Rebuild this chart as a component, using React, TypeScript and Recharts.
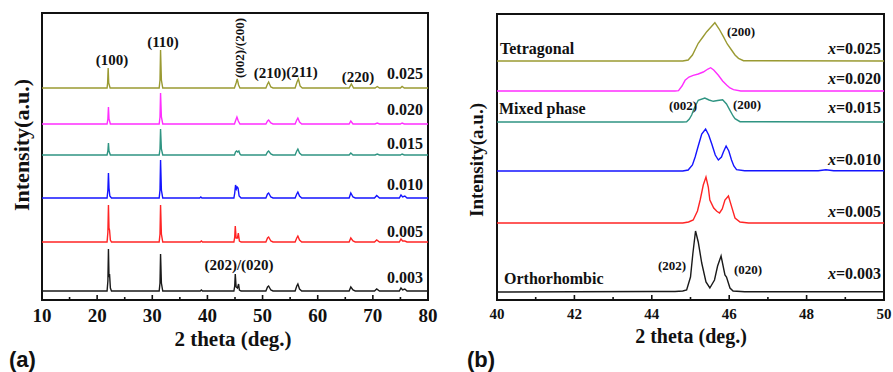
import React from 'react';
import { LineChart, Line, XAxis, YAxis, ReferenceArea } from 'recharts';

// x values of the stacked patterns, top label text
const compositions = ['0.003', '0.005', '0.010', '0.015', '0.020', '0.025'];
const colors = ['#1a1a1a', '#ff2424', '#1414ff', '#2f9482', '#ff2eff', '#9a9a32'];

// vertical stacking offsets (a.u.)
const offsetsA = [9, 58, 102, 145, 176, 212];
const offsetsB = [8, 77, 129, 178, 209, 239];

const ticksA = [10, 15, 20, 25, 30, 35, 40, 45, 50, 55, 60, 65, 70, 75, 80];
const majorA = [10, 20, 30, 40, 50, 60, 70, 80];
const ticksB = [40, 41, 42, 43, 44, 45, 46, 47, 48, 49, 50];
const majorB = [40, 42, 44, 46, 48, 50];

type Pt = [number, number];

// (a) full range 10-80 deg
const a003: Pt[] = [
  [10, 0], [21.8, 0], [21.95, 10], [22.05, 42], [22.15, 14], [22.25, 17], [22.4, 3], [22.6, 0],
  [31.25, 0], [31.4, 8], [31.5, 37], [31.65, 8], [31.9, 0],
  [38.7, 0], [38.9, 1], [39.1, 0],
  [44.8, 0], [44.95, 5], [45.05, 17], [45.2, 4], [45.45, 3], [45.65, 7], [45.8, 1], [46.1, 0],
  [50.6, 0], [50.9, 4], [51.1, 5], [51.5, 1], [51.9, 0],
  [55.9, 0], [56.2, 5], [56.4, 7], [56.7, 2], [57.1, 0],
  [65.7, 0], [66.0, 4], [66.4, 1], [66.8, 0],
  [70.3, 0], [70.7, 2], [71.2, 0],
  [74.8, 0], [75.1, 3], [75.4, 1], [75.8, 2], [76.2, 0], [80, 0],
];
const a005: Pt[] = [
  [10, 0], [21.8, 0], [21.95, 10], [22.05, 37], [22.15, 14], [22.25, 12], [22.4, 2], [22.6, 0],
  [31.25, 0], [31.4, 8], [31.5, 37], [31.65, 8], [31.9, 0],
  [38.7, 0], [38.9, 1], [39.1, 0],
  [44.8, 0], [44.95, 5], [45.05, 16], [45.2, 4], [45.45, 4], [45.6, 9], [45.8, 1], [46.1, 0],
  [50.6, 0], [50.9, 4], [51.1, 5], [51.5, 1], [51.9, 0],
  [55.9, 0], [56.2, 4], [56.4, 6], [56.7, 2], [57.1, 0],
  [65.7, 0], [66.0, 4], [66.4, 1], [66.8, 0],
  [70.3, 0], [70.7, 2], [71.2, 0],
  [74.8, 0], [75.1, 3], [75.4, 1], [75.8, 1], [76.2, 0], [80, 0],
];
const a010: Pt[] = [
  [10, 0], [21.8, 0], [21.95, 8], [22.05, 25], [22.15, 10], [22.3, 2], [22.6, 0],
  [31.25, 0], [31.4, 8], [31.5, 38], [31.65, 8], [31.9, 0],
  [38.6, 0], [38.8, 1], [39.0, 0],
  [44.8, 0], [44.95, 5], [45.1, 13], [45.25, 9], [45.4, 11], [45.55, 10], [45.75, 2], [46.1, 0],
  [50.6, 0], [50.9, 4], [51.1, 5], [51.5, 1], [51.9, 0],
  [55.9, 0], [56.2, 4], [56.4, 6], [56.7, 2], [57.1, 0],
  [65.7, 0], [66.0, 5], [66.4, 1], [66.8, 0],
  [70.3, 0], [70.7, 2.5], [71.2, 0],
  [74.8, 0], [75.1, 3], [75.4, 1], [75.8, 2], [76.2, 0], [80, 0],
];
const a015: Pt[] = [
  [10, 0], [21.8, 0], [21.95, 4], [22.05, 12], [22.15, 4], [22.4, 0],
  [31.25, 0], [31.4, 6], [31.5, 26], [31.65, 6], [31.9, 0],
  [44.9, 0], [45.1, 3], [45.3, 4], [45.5, 3], [45.7, 4], [45.9, 1], [46.1, 0],
  [50.6, 0], [50.9, 3], [51.1, 4], [51.5, 1], [51.9, 0],
  [55.9, 0], [56.2, 4], [56.4, 6], [56.7, 2], [57.1, 0],
  [65.7, 0], [66.0, 2], [66.4, 0],
  [70.4, 0], [70.8, 1], [71.2, 0],
  [75.0, 0], [75.3, 1], [75.7, 0], [80, 0],
];
const a020: Pt[] = [
  [10, 0], [21.8, 0], [21.95, 5], [22.05, 17], [22.15, 5], [22.4, 0],
  [31.25, 0], [31.4, 7], [31.5, 31], [31.65, 7], [31.9, 0],
  [44.9, 0], [45.15, 4], [45.35, 7], [45.6, 3], [45.9, 0],
  [50.6, 0], [50.9, 3], [51.1, 4], [51.5, 1], [51.9, 0],
  [55.9, 0], [56.2, 4], [56.4, 6], [56.7, 2], [57.1, 0],
  [65.7, 0], [66.0, 3], [66.4, 0],
  [70.4, 0], [70.8, 1], [71.2, 0],
  [75.0, 0], [75.3, 1], [75.7, 0], [80, 0],
];
const a025: Pt[] = [
  [10, 0], [21.8, 0], [21.9, 5], [22.0, 20], [22.1, 5], [22.35, 0],
  [31.25, 0], [31.4, 8], [31.5, 38], [31.65, 8], [31.9, 0],
  [44.9, 0], [45.2, 5], [45.4, 9], [45.65, 3], [45.9, 0],
  [50.6, 0], [50.9, 4], [51.1, 6], [51.5, 1], [51.9, 0],
  [55.9, 0], [56.25, 6], [56.5, 9], [56.8, 2], [57.2, 0],
  [65.7, 0], [66.1, 4], [66.5, 0],
  [70.4, 0], [70.8, 1.5], [71.2, 0],
  [75.0, 0], [75.3, 1.5], [75.7, 0], [80, 0],
];

// (b) zoom 40-50 deg
const b003: Pt[] = [
  [40, 0], [42, 0.3], [44, 0.5], [44.6, 0.5], [44.8, 1], [44.9, 2], [45.0, 15], [45.06, 38], [45.13, 61],
  [45.2, 50], [45.29, 29], [45.4, 10], [45.5, 4], [45.62, 12], [45.7, 26], [45.79, 36], [45.89, 17],
  [45.93, 15], [46.02, 4], [46.1, 1], [46.4, 0.3], [48, 0.3], [50, 0.3],
];
const b005: Pt[] = [
  [40, 0], [44.8, 0], [44.95, 1], [45.07, 3], [45.18, 12], [45.25, 23], [45.33, 38], [45.4, 46],
  [45.46, 36], [45.5, 23], [45.6, 15], [45.68, 11.7], [45.75, 10], [45.82, 14], [45.89, 23], [45.98, 27],
  [46.06, 16.6], [46.15, 5], [46.28, 1], [46.5, 0], [50, 0],
];
const b010: Pt[] = [
  [40, 0], [44.8, 0], [44.94, 1], [45.05, 6], [45.12, 14], [45.2, 25], [45.29, 37], [45.39, 42],
  [45.47, 36], [45.55, 27], [45.64, 16], [45.72, 11], [45.8, 14], [45.85, 19], [45.92, 25], [45.99, 20],
  [46.06, 11], [46.12, 5], [46.19, 1.4], [46.4, 0.3], [48.3, 0.3], [48.5, 1.2], [48.7, 0.3], [50, 0.3],
];
const b015: Pt[] = [
  [40, 0], [44.8, 0], [44.9, 0.3], [44.97, 3], [45.03, 7], [45.1, 14], [45.2, 21.7], [45.37, 24],
  [45.48, 22], [45.59, 20.7], [45.7, 21.5], [45.83, 22.3], [45.93, 18], [46.02, 11.7], [46.1, 6],
  [46.15, 3.3], [46.28, 0.3], [50, 0],
];
const b020: Pt[] = [
  [40, 0], [44.6, 0], [44.69, 0.3], [44.78, 5], [44.86, 10.7], [44.96, 14], [45.07, 15.7], [45.2, 17],
  [45.33, 19], [45.45, 22], [45.52, 23.3], [45.6, 21], [45.72, 15.7], [45.83, 10], [45.94, 5.7],
  [46.02, 3], [46.11, 1.3], [46.3, 0], [50, 0],
];
const b025: Pt[] = [
  [40, 0], [44.8, 0], [44.94, 1], [45.05, 6], [45.2, 17.7], [45.32, 24], [45.42, 29.3], [45.53, 34],
  [45.63, 38.3], [45.74, 32], [45.85, 24.3], [45.95, 17], [46.06, 11], [46.15, 6], [46.24, 2.7],
  [46.37, 0.3], [50, 0],
];

const patternsA = [a003, a005, a010, a015, a020, a025];
const patternsB = [b003, b005, b010, b015, b020, b025];

const serif = '"Liberation Serif", "Times New Roman", serif';

function stacked(pts: Pt[], offset: number) {
  return pts.map(([x, y]) => ({ x, y: y + offset }));
}

function makeTick(majors: number[], fontSize: number, dy: number) {
  return (props: any) => {
    const { x, y, payload } = props;
    const major = majors.includes(payload.value);
    return (
      <g>
        <line x1={x} x2={x} y1={y} y2={y - (major ? 5 : 3)} stroke="#111" strokeWidth={1.6} />
        {major && (
          <text x={x} y={y + dy} textAnchor="middle" dominantBaseline="central"
            fontFamily={serif} fontWeight="bold" fontSize={fontSize} fill="#111">
            {payload.value}
          </text>
        )}
      </g>
    );
  };
}

type TxtProps = {
  x: number; y: number; size: number; align?: 'left' | 'center' | 'right';
  rotate?: number; sans?: boolean; children: React.ReactNode;
};
function Txt({ x, y, size, align = 'center', rotate, sans, children }: TxtProps) {
  const tx = align === 'center' ? '-50%' : align === 'right' ? '-100%' : '0';
  return (
    <div style={{
      position: 'absolute', left: x, top: y, fontSize: size, fontWeight: 'bold', lineHeight: 1,
      whiteSpace: 'nowrap', color: '#111',
      fontFamily: sans ? '"Liberation Sans", Arial, sans-serif' : serif,
      transform: `translate(${tx}, -50%)${rotate ? ` rotate(${rotate}deg)` : ''}`,
    }}>
      {children}
    </div>
  );
}

function PanelA() {
  return (
    <LineChart width={440} height={372} margin={{ top: 13, right: 12, bottom: 42, left: 42 }}>
      <XAxis type="number" dataKey="x" domain={[10, 80]} ticks={ticksA} interval={0}
        axisLine={false} tickLine={false} tickSize={0} tickMargin={0} height={30}
        tick={makeTick(majorA, 19, 15)} allowDataOverflow />
      <YAxis hide type="number" domain={[0, 287]} allowDataOverflow />
      <ReferenceArea x1={10} x2={80} y1={0} y2={287} fill="none" stroke="#111" strokeWidth={2} ifOverflow="visible" />
      {patternsA.map((p, i) => (
        <Line key={compositions[i]} data={stacked(p, offsetsA[i])} dataKey="y" stroke={colors[i]}
          strokeWidth={1.4} dot={false} isAnimationActive={false} type="linear" />
      ))}
    </LineChart>
  );
}

function PanelB() {
  return (
    <LineChart width={453} height={372} margin={{ top: 14, right: 9, bottom: 42, left: 57 }}>
      <XAxis type="number" dataKey="x" domain={[40, 50]} ticks={ticksB} interval={0}
        axisLine={false} tickLine={false} tickSize={0} tickMargin={0} height={30}
        tick={makeTick(majorB, 15, 14)} allowDataOverflow />
      <YAxis hide type="number" domain={[0, 286]} allowDataOverflow />
      <ReferenceArea x1={40} x2={50} y1={0} y2={286} fill="none" stroke="#111" strokeWidth={2} ifOverflow="visible" />
      {patternsB.map((p, i) => (
        <Line key={compositions[i]} data={stacked(p, offsetsB[i])} dataKey="y" stroke={colors[i]}
          strokeWidth={1.4} dot={false} isAnimationActive={false} type="linear" />
      ))}
    </LineChart>
  );
}

const labelYA = [278, 232, 185, 144, 110, 74];
const labelYB = [274, 212, 160, 108, 79, 49];

export default function App() {
  return (
    <div style={{ position: 'absolute', left: 0, top: 0, width: 893, height: 372, background: '#fff', overflow: 'hidden' }}>
      <div style={{ position: 'absolute', left: 0, top: 0 }}><PanelA /></div>
      <div style={{ position: 'absolute', left: 440, top: 0 }}><PanelB /></div>

      {/* panel (a) annotations */}
      <Txt x={112} y={60} size={15}>(100)</Txt>
      <Txt x={163} y={42} size={15}>(110)</Txt>
      <Txt x={239} y={48} size={13} rotate={-90}>(002)/(200)</Txt>
      <Txt x={270} y={73} size={15}>(210)</Txt>
      <Txt x={302} y={72} size={15}>(211)</Txt>
      <Txt x={358} y={77} size={15}>(220)</Txt>
      <Txt x={239} y={265} size={15}>(202)/(020)</Txt>
      {compositions.map((c, i) => (
        <Txt key={c} x={405} y={labelYA[i]} size={16}>{c}</Txt>
      ))}
      <Txt x={233} y={339} size={21}>2 theta (deg.)</Txt>
      <Txt x={22} y={145} size={22} rotate={-90}>Intensity(a.u.)</Txt>
      <Txt x={9} y={360} size={22} align="left" sans>(a)</Txt>

      {/* panel (b) annotations */}
      <Txt x={741} y={31} size={13}>(200)</Txt>
      <Txt x={500} y={49} size={16} align="left">Tetragonal</Txt>
      <Txt x={499} y={109} size={16} align="left">Mixed phase</Txt>
      <Txt x={683} y={105} size={13}>(002)</Txt>
      <Txt x={747} y={104} size={13}>(200)</Txt>
      <Txt x={672} y={265} size={13}>(202)</Txt>
      <Txt x={748} y={269} size={13}>(020)</Txt>
      <Txt x={504} y={279} size={16} align="left">Orthorhombic</Txt>
      {compositions.map((c, i) => (
        <Txt key={c} x={881} y={labelYB[i]} size={16} align="right"><i>x</i>={c}</Txt>
      ))}
      <Txt x={691} y={336} size={20}>2 theta (deg.)</Txt>
      <Txt x={476} y={160} size={19} rotate={-90}>Intensity(a.u.)</Txt>
      <Txt x={467} y={360} size={22} align="left" sans>(b)</Txt>
    </div>
  );
}
